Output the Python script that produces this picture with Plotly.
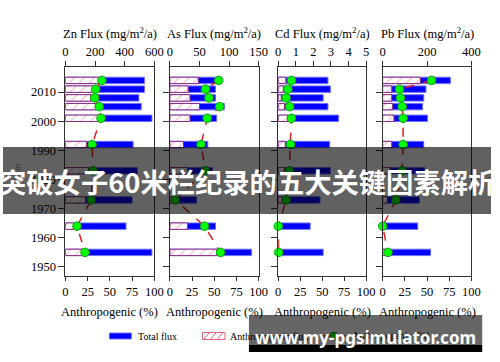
import plotly.graph_objects as go

# ---------------- data ----------------
years = [2014, 2011, 2008, 2005, 2001, 1992, 1983, 1973, 1964, 1955]
metals = ["Zn", "As", "Cd", "Pb"]

zn_total = [534, 534, 496, 512, 584, 457, 485, 450, 409, 584]
zn_anthro = [226, 187, 171, 204, 226, 143, 156, 134, 55, 116]
zn_pct = [41, 34, 33, 38, 40, 30, 31, 29, 13, 22]

as_total = [88, 77, 77, 92, 79, 64, 72, 45, 77, 138]
as_anthro = [48, 31, 34, 50, 34, 23, 30, 5, 30, 79]
as_pct = [55, 40, 44, 56, 42, 35, 40, 6, 39, 57]

cd_total = [2.83, 2.97, 2.56, 2.83, 3.44, 2.93, 2.97, 2.38, 1.82, 2.56]
cd_anthro = [0.44, 0.29, 0.17, 0.35, 0.53, 0.40, 0.35, 0.22, 0.0, 0.05]
cd_pct = [15, 11, 9, 13, 15, 14, 12.5, 9, 0, 0.5]

pb_total = [305, 195, 185, 180, 202, 185, 190, 165, 158, 216]
pb_anthro = [170, 41, 41, 45, 51, 41, 34, 22, 0, 26]
pb_pct = [55, 19, 20, 22, 23, 23, 22, 15, 0, 6]

flux_titles = ["Zn Flux (mg/m<sup>2</sup>/a)", "As Flux (mg/m<sup>2</sup>/a)",
               "Cd Flux (mg/m<sup>2</sup>/a)", "Pb Flux (mg/m<sup>2</sup>/a)"]
flux_ranges = [[0, 600], [0, 150], [0, 5], [0, 400]]
flux_ticks = [[0, 200, 400, 600], [0, 50, 100, 150], [0, 1, 2, 3, 4, 5], [0, 200, 400]]
pct_ticks = [0, 25, 50, 75, 100]
year_ticks = [1950, 1960, 1970, 1980, 1990, 2000, 2010]
pct_title = "Anthropogenic (%)"
legend_labels = ["Total flux", "Anthropogenic flux", "Anthropogenic (%)"]
banner_text = "突破女子60米栏纪录的五大关键因素解析"
watermark_text = "www.my-pgsimulator.com"

totals = [zn_total, as_total, cd_total, pb_total]
anthros = [zn_anthro, as_anthro, cd_anthro, pb_anthro]
pcts = [zn_pct, as_pct, cd_pct, pb_pct]

# ---------------- layout geometry ----------------
W, H = 500, 362
def px(x):
    return x / W
def py(y):
    return 1 - y / H

panel_px = [(64, 155), (171, 262), (282, 372), (389, 480)]
ydom = [py(276), py(67)]
yrange = [1946.9, 2018.6]
SERIF = "Liberation Serif, 'Times New Roman', serif"
FS = 12.5
BLUE = "#0000FF"
BLUE_EDGE = "#6F6FFF"
HATCH = "#E0607A"
HATCH_EDGE = "#8E2A7E"
RED = "#E02020"
GREEN = "#00FF00"
GREEN_EDGE = "#10A010"

fig = go.Figure()
layout = dict(
    width=W, height=H,
    margin=dict(l=0, r=0, t=0, b=0),
    paper_bgcolor="white", plot_bgcolor="white",
    barmode="overlay", showlegend=False,
    font=dict(family=SERIF, size=FS, color="black"),
)

for i in range(4):
    n = i + 1
    fx = "x" if n == 1 else f"x{n}"
    px_ax = f"x{n + 4}"
    yy = "y" if n == 1 else f"y{n}"
    dom = [px(panel_px[i][0]), px(panel_px[i][1])]

    fig.add_trace(go.Bar(
        y=years, x=totals[i], orientation="h", width=2.2,
        xaxis=fx, yaxis=yy, name=legend_labels[0],
        marker=dict(color=BLUE, line=dict(color=BLUE_EDGE, width=1)),
    ))
    fig.add_trace(go.Bar(
        y=years, x=anthros[i], orientation="h", width=2.2,
        xaxis=fx, yaxis=yy, name=legend_labels[1],
        marker=dict(color="white",
                    pattern=dict(shape="/", fgcolor=HATCH, bgcolor="white",
                                 size=7, solidity=0.15),
                    line=dict(color=HATCH_EDGE, width=1)),
    ))
    fig.add_trace(go.Scatter(
        y=years, x=pcts[i], mode="lines+markers", cliponaxis=False,
        xaxis=px_ax, yaxis=yy, name=legend_labels[2],
        line=dict(color=RED, width=1.5, dash="dash"),
        marker=dict(size=8.5, color=GREEN, line=dict(color=GREEN_EDGE, width=1)),
    ))

    axname = "xaxis" if n == 1 else f"xaxis{n}"
    layout[axname] = dict(
        domain=dom, range=flux_ranges[i], side="top", anchor=yy,
        tickvals=flux_ticks[i], ticks="outside", ticklen=5, tickcolor="#333",
        showline=True, linecolor="#333", linewidth=1, mirror=True,
        showgrid=False, zeroline=False,
        tickfont=dict(family=SERIF, size=FS, color="black"),
    )
    layout[f"xaxis{n + 4}"] = dict(
        domain=dom, range=[0, 100], side="bottom", anchor=yy,
        overlaying=fx, tickvals=pct_ticks, ticks="outside", ticklen=4,
        tickcolor="#333", showline=False, showgrid=False, zeroline=False,
        tickfont=dict(family=SERIF, size=FS, color="black"),
    )
    yname = "yaxis" if n == 1 else f"yaxis{n}"
    layout[yname] = dict(
        domain=ydom, range=yrange, anchor=fx,
        tickvals=year_ticks, ticks="outside", ticklen=6, tickcolor="#333",
        showticklabels=(n == 1),
        showline=True, linecolor="#333", linewidth=1, mirror=True,
        showgrid=False, zeroline=False,
        tickfont=dict(family=SERIF, size=FS, color="black"),
    )
    if n == 1:
        layout[yname]["title"] = dict(text="Year", standoff=8,
                                      font=dict(family=SERIF, size=9, color="#333"))

fig.update_layout(**layout)

annotations = []
shapes = []
for i in range(4):
    cx = px((panel_px[i][0] + panel_px[i][1]) / 2)
    annotations.append(dict(text=flux_titles[i], x=cx, y=py(33), xref="paper", yref="paper",
                            showarrow=False, xanchor="center", yanchor="middle",
                            font=dict(family=SERIF, size=FS, color="black")))
    annotations.append(dict(text=pct_title, x=cx, y=py(312), xref="paper", yref="paper",
                            showarrow=False, xanchor="center", yanchor="middle",
                            font=dict(family=SERIF, size=FS, color="black")))

# legend (manual)
ly = 336
shapes.append(dict(type="rect", xref="paper", yref="paper", x0=px(109), x1=px(131.5),
                   y0=py(333), y1=py(339), fillcolor=BLUE, line=dict(color=BLUE_EDGE, width=1)))
annotations.append(dict(text=legend_labels[0], x=px(136), y=py(ly), xref="paper", yref="paper",
                        showarrow=False, xanchor="left", yanchor="middle",
                        font=dict(family=SERIF, size=10, color="black")))
shapes.append(dict(type="rect", xref="paper", yref="paper", x0=px(204.5), x1=px(227.5),
                   y0=py(332.5), y1=py(339.5), fillcolor="white", line=dict(color=HATCH, width=1)))
for k in range(3):
    x0 = 206 + k * 7
    shapes.append(dict(type="line", xref="paper", yref="paper", x0=px(x0), x1=px(x0 + 5),
                       y0=py(339), y1=py(333), line=dict(color=HATCH, width=1)))
annotations.append(dict(text=legend_labels[1], x=px(231), y=py(ly), xref="paper", yref="paper",
                        showarrow=False, xanchor="left", yanchor="middle",
                        font=dict(family=SERIF, size=10, color="black")))
shapes.append(dict(type="line", xref="paper", yref="paper", x0=px(326), x1=px(352),
                   y0=py(ly), y1=py(ly), line=dict(color=RED, width=1.5, dash="dash")))
shapes.append(dict(type="circle", xref="paper", yref="paper", x0=px(335), x1=px(343),
                   y0=py(ly + 4), y1=py(ly - 4), fillcolor=GREEN, line=dict(color=GREEN_EDGE, width=1)))
annotations.append(dict(text=legend_labels[2], x=px(356), y=py(ly), xref="paper", yref="paper",
                        showarrow=False, xanchor="left", yanchor="middle",
                        font=dict(family=SERIF, size=10, color="black")))

# banner overlay
shapes.append(dict(type="rect", xref="paper", yref="paper", x0=0, x1=1,
                   y0=py(214), y1=py(147), fillcolor="rgba(0,0,0,0.62)",
                   line=dict(width=0), layer="above"))
annotations.append(dict(text=banner_text, x=0.5, y=py(181), xref="paper", yref="paper",
                        showarrow=False, xanchor="center", yanchor="middle",
                        font=dict(family="Noto Sans CJK SC", size=27.3, color="white", weight=700)))

# watermark
shapes.append(dict(type="rect", xref="paper", yref="paper", x0=px(252), x1=px(491),
                   y0=py(345), y1=py(315), fillcolor="rgba(0,0,0,0.6)",
                   line=dict(width=0), layer="above"))
shapes.append(dict(type="rect", xref="paper", yref="paper", x0=px(252), x1=px(491),
                   y0=py(352), y1=py(345), fillcolor="black",
                   line=dict(width=0), layer="above"))
annotations.append(dict(text=watermark_text, x=px(371), y=py(337), xref="paper", yref="paper",
                        showarrow=False, xanchor="center", yanchor="middle",
                        font=dict(family="Noto Sans", size=17, color="white", weight=700)))

fig.update_layout(annotations=annotations, shapes=shapes)
fig.write_html("out.html", config={"displayModeBar": False},
               post_script="document.body.style.margin='0px';")
